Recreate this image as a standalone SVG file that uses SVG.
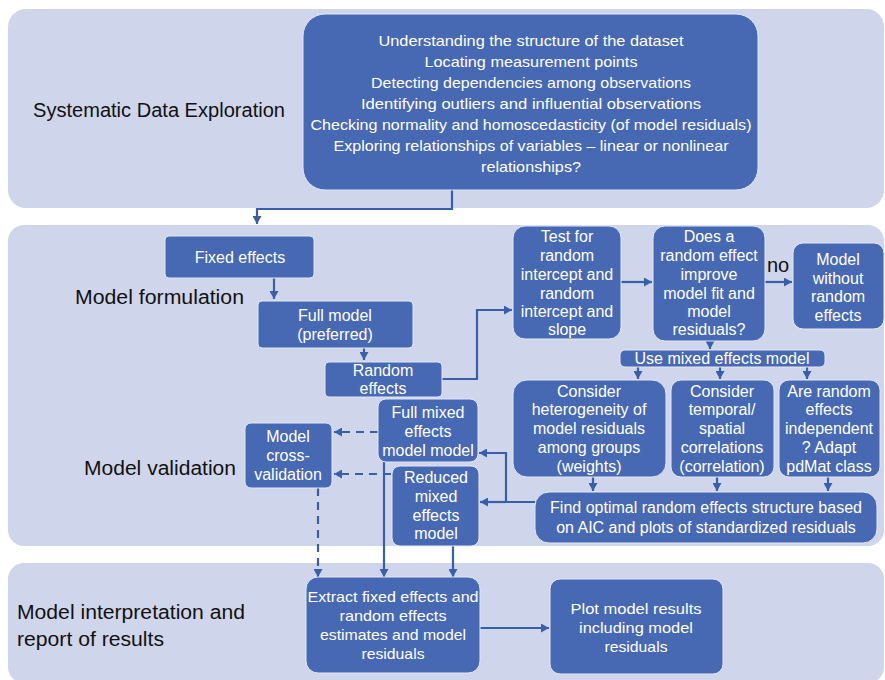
<svg xmlns="http://www.w3.org/2000/svg" width="885" height="680" viewBox="0 0 885 680">
  <defs>
    <marker id="arr" markerUnits="userSpaceOnUse" markerWidth="9" markerHeight="9" refX="8" refY="4.5" orient="auto">
      <path d="M0,0 L8,4.5 L0,9 z" fill="#3a5fa9"/>
    </marker>
    <style>
      .panel { fill: #cfd5ea; }
      .box { fill: #4769b3; stroke: #e3e8f4; stroke-width: 1; }
      .lbl { font-family: "Liberation Sans", Arial, sans-serif; font-size: 20px; fill: #111; }
      .t { font-family: "Liberation Sans", Arial, sans-serif; font-size: 16px; fill: #ffffff; text-anchor: middle; }
      .tc { font-family: "Liberation Sans", Arial, sans-serif; font-size: 15px; fill: #ffffff; text-anchor: middle; }
      .conn path { fill: none; stroke: #3a5fa9; stroke-width: 2.2; }
      .conn .dash { stroke-dasharray: 8 6; }
    </style>
  </defs>

  <rect width="885" height="680" fill="#ffffff"/>

  <!-- section bands -->
  <rect class="panel" x="8" y="9" width="876" height="199" rx="18"/>
  <rect class="panel" x="8" y="225" width="876" height="321" rx="16"/>
  <rect class="panel" x="8" y="563" width="876" height="120" rx="16"/>

  <!-- section titles -->
  <text class="lbl" x="33" y="117" textLength="252" lengthAdjust="spacingAndGlyphs">Systematic Data Exploration</text>
  <text class="lbl" x="75" y="304" textLength="169" lengthAdjust="spacingAndGlyphs">Model formulation</text>
  <text class="lbl" x="84" y="475" textLength="152" lengthAdjust="spacingAndGlyphs">Model validation</text>
  <text class="lbl" x="17" y="619" textLength="228" lengthAdjust="spacingAndGlyphs">Model interpretation and</text>
  <text class="lbl" x="17" y="646" textLength="147" lengthAdjust="spacingAndGlyphs">report of results</text>

  <!-- connectors -->
  <g class="conn">
    <path d="M452,190 V209 H257 V224" marker-end="url(#arr)"/>
    <path d="M274,278 V299" marker-end="url(#arr)"/>
    <path d="M364,348 V360" marker-end="url(#arr)"/>
    <path d="M442,379 H477 V310 H512" marker-end="url(#arr)"/>
    <path d="M621,282 H652" marker-end="url(#arr)"/>
    <path d="M765,282 H792" marker-end="url(#arr)"/>
    <path d="M710,341 V349" marker-end="url(#arr)"/>
    <path d="M638,367 V379" marker-end="url(#arr)"/>
    <path d="M720,367 V379" marker-end="url(#arr)"/>
    <path d="M807,367 V379" marker-end="url(#arr)"/>
    <path d="M593,477 V491" marker-end="url(#arr)"/>
    <path d="M717,477 V491" marker-end="url(#arr)"/>
    <path d="M828,477 V491" marker-end="url(#arr)"/>
    <path d="M535,502 H506 V453 H479" marker-end="url(#arr)"/>
    <path d="M506,502 H480" marker-end="url(#arr)"/>
    <path class="dash" d="M378,432 H334" marker-end="url(#arr)"/>
    <path class="dash" d="M391,474 H334" marker-end="url(#arr)"/>
    <path class="dash" d="M318,488 V577" marker-end="url(#arr)"/>
    <path d="M384,462 V577" marker-end="url(#arr)"/>
    <path d="M453,546 V577" marker-end="url(#arr)"/>
    <path d="M480,628 H549" marker-end="url(#arr)"/>
  </g>
  <text x="767" y="272" font-family="Liberation Sans, Arial, sans-serif" font-size="20" fill="#111">no</text>

  <g id="exploration">
    <rect class="box" x="303" y="14" width="455" height="176" rx="22"/>
    <text class="tc" x="531" y="46" textLength="305" lengthAdjust="spacingAndGlyphs">Understanding the structure of the dataset</text>
    <text class="tc" x="531" y="67" textLength="213" lengthAdjust="spacingAndGlyphs">Locating measurement points</text>
    <text class="tc" x="531" y="88" textLength="320" lengthAdjust="spacingAndGlyphs">Detecting dependencies among observations</text>
    <text class="tc" x="531" y="109" textLength="340" lengthAdjust="spacingAndGlyphs">Identifying outliers  and influential observations</text>
    <text class="tc" x="531" y="130" textLength="441" lengthAdjust="spacingAndGlyphs">Checking normality and homoscedasticity (of model residuals)</text>
    <text class="tc" x="531" y="151" textLength="395" lengthAdjust="spacingAndGlyphs">Exploring relationships of variables – linear or nonlinear</text>
    <text class="tc" x="531" y="172" textLength="100" lengthAdjust="spacingAndGlyphs">relationships?</text>
  </g>

  <g id="fixed-effects">
    <rect class="box" x="165" y="236" width="149" height="42" rx="4"/>
    <text class="t" x="240" y="263">Fixed effects</text>
  </g>

  <g id="full-model">
    <rect class="box" x="258" y="301" width="155" height="47" rx="4"/>
    <text class="t" x="335" y="321">Full model</text>
    <text class="t" x="335" y="340">(preferred)</text>
  </g>

  <g id="random-effects">
    <rect class="box" x="325" y="362" width="117" height="35" rx="4"/>
    <text class="t" x="383" y="376">Random</text>
    <text class="t" x="383" y="394">effects</text>
  </g>

  <g id="test-random">
    <rect class="box" x="513" y="226" width="108" height="113" rx="12"/>
    <text class="t" x="567" y="242">Test for</text>
    <text class="t" x="567" y="261">random</text>
    <text class="t" x="567" y="280">intercept and</text>
    <text class="t" x="567" y="299">random</text>
    <text class="t" x="567" y="317">intercept and</text>
    <text class="t" x="567" y="335">slope</text>
  </g>

  <g id="improve-fit">
    <rect class="box" x="653" y="226" width="112" height="115" rx="12"/>
    <text class="t" x="709" y="242">Does a</text>
    <text class="t" x="709" y="261">random effect</text>
    <text class="t" x="709" y="280">improve</text>
    <text class="t" x="709" y="299">model fit and</text>
    <text class="t" x="709" y="317">model</text>
    <text class="t" x="709" y="335">residuals?</text>
  </g>

  <g id="no-random">
    <rect class="box" x="793" y="243" width="91" height="86" rx="10"/>
    <text class="t" x="838" y="265" font-size="17">Model</text>
    <text class="t" x="838" y="284" font-size="17">without</text>
    <text class="t" x="838" y="302" font-size="17">random</text>
    <text class="t" x="838" y="321" font-size="17">effects</text>
  </g>

  <g id="use-mixed">
    <rect class="box" x="620" y="350" width="205" height="17" rx="5"/>
    <text class="t" x="722" y="364">Use mixed effects model</text>
  </g>

  <g id="heterogeneity">
    <rect class="box" x="513" y="380" width="153" height="97" rx="14"/>
    <text class="t" x="589" y="397">Consider</text>
    <text class="t" x="589" y="415">heterogeneity of</text>
    <text class="t" x="589" y="434">model residuals</text>
    <text class="t" x="589" y="453">among groups</text>
    <text class="t" x="589" y="472">(weights)</text>
  </g>

  <g id="correlation">
    <rect class="box" x="671" y="380" width="103" height="97" rx="10"/>
    <text class="t" x="722" y="397">Consider</text>
    <text class="t" x="722" y="415">temporal/</text>
    <text class="t" x="722" y="434">spatial</text>
    <text class="t" x="722" y="453">correlations</text>
    <text class="t" x="722" y="472">(correlation)</text>
  </g>

  <g id="pdmat">
    <rect class="box" x="779" y="380" width="101" height="97" rx="10"/>
    <text class="t" x="829" y="397">Are random</text>
    <text class="t" x="829" y="415">effects</text>
    <text class="t" x="829" y="434">independent</text>
    <text class="t" x="829" y="453">? Adapt</text>
    <text class="t" x="829" y="472">pdMat class</text>
  </g>

  <g id="optimal-structure">
    <rect class="box" x="535" y="492" width="342" height="51" rx="14"/>
    <text class="t" x="706" y="513">Find optimal random effects structure based</text>
    <text class="t" x="706" y="533">on AIC and plots of standardized residuals</text>
  </g>

  <g id="full-mixed">
    <rect class="box" x="378" y="399" width="100" height="63" rx="8"/>
    <text class="t" x="428" y="418">Full mixed</text>
    <text class="t" x="428" y="437">effects</text>
    <text class="t" x="428" y="456">model model</text>
  </g>

  <g id="reduced-mixed">
    <rect class="box" x="392" y="466" width="87" height="80" rx="8"/>
    <text class="t" x="436" y="483">Reduced</text>
    <text class="t" x="436" y="502">mixed</text>
    <text class="t" x="436" y="521">effects</text>
    <text class="t" x="436" y="539">model</text>
  </g>

  <g id="cross-validation">
    <rect class="box" x="245" y="423" width="87" height="65" rx="6"/>
    <text class="t" x="288" y="442">Model</text>
    <text class="t" x="288" y="461">cross-</text>
    <text class="t" x="288" y="480">validation</text>
  </g>

  <g id="extract-estimates">
    <rect class="box" x="306" y="577" width="174" height="96" rx="12"/>
    <text class="tc" x="393" y="602" textLength="171" lengthAdjust="spacingAndGlyphs">Extract fixed effects and</text>
    <text class="tc" x="393" y="621" textLength="107" lengthAdjust="spacingAndGlyphs">random effects</text>
    <text class="tc" x="393" y="640" textLength="146" lengthAdjust="spacingAndGlyphs">estimates and model</text>
    <text class="tc" x="393" y="659" textLength="63" lengthAdjust="spacingAndGlyphs">residuals</text>
  </g>

  <g id="plot-results">
    <rect class="box" x="550" y="579" width="173" height="95" rx="10"/>
    <text class="tc" x="636" y="614" textLength="131" lengthAdjust="spacingAndGlyphs">Plot model results</text>
    <text class="tc" x="636" y="633" textLength="114" lengthAdjust="spacingAndGlyphs">including model</text>
    <text class="tc" x="636" y="652" textLength="63" lengthAdjust="spacingAndGlyphs">residuals</text>
  </g>
</svg>
